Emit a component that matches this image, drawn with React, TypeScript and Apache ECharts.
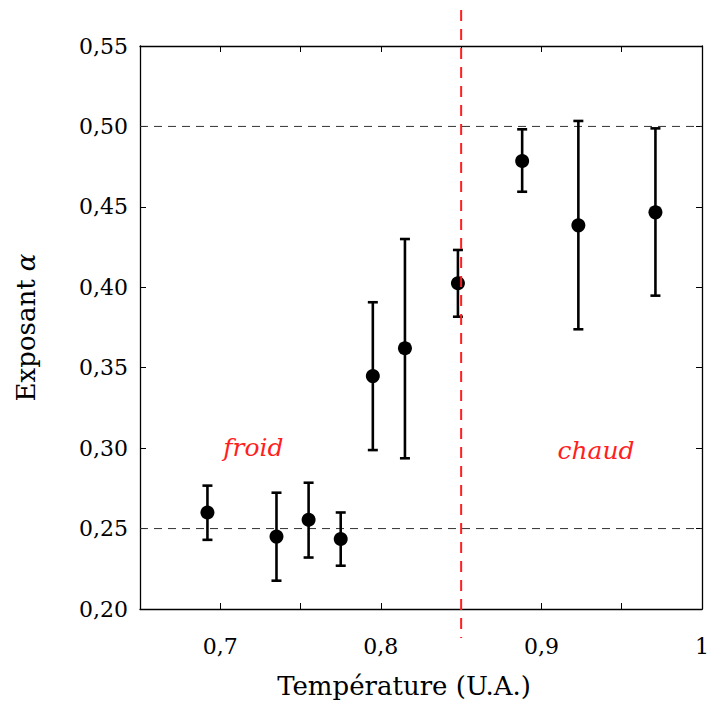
import React, { useEffect, useRef } from "react";
import * as echarts from "echarts";

const temperatures = [0.692, 0.735, 0.755, 0.775, 0.795, 0.815, 0.848, 0.888, 0.923, 0.971];
const alphaValues = [0.26, 0.245, 0.2555, 0.2435, 0.3448, 0.3621, 0.4025, 0.4785, 0.4385, 0.4466];
const errLow = [0.243, 0.2176, 0.232, 0.2269, 0.2988, 0.2937, 0.3817, 0.4594, 0.3739, 0.3948];
const errHigh = [0.2767, 0.2723, 0.2785, 0.26, 0.3907, 0.43, 0.4232, 0.4982, 0.5034, 0.4988];
const refLevels = [0.25, 0.5];
const transitionT = [0.85];
const annotations = [
  { x: 0.7206, y: 0.3007, text: "froid" },
  { x: 0.934, y: 0.2988, text: "chaud" },
];

const FONT = "DejaVu Serif";

export default function App() {
  const ref = useRef<HTMLDivElement>(null);
  useEffect(() => {
    const chart = echarts.init(ref.current!, null, { renderer: "svg" });
    const xLabel = (v: number) => {
      const c = Math.round(v * 100);
      if (c % 10 !== 0) return "";
      return c === 100 ? "1" : "0," + c / 10;
    };
    const yLabel = (v: number) => v.toFixed(2).replace(".", ",");
    const axisCommon = {
      axisLine: { show: true, onZero: false, lineStyle: { color: "#000", width: 1.3 } },
      axisTick: { show: true, inside: true, length: 6, lineStyle: { color: "#000", width: 1 } },
      splitLine: { show: false },
    };
    chart.setOption({
      animation: false,
      grid: { left: 140, right: 10, top: 46, bottom: 95, containLabel: false },
      xAxis: [
        {
          type: "value",
          min: 0.65,
          max: 1.0,
          interval: 0.05,
          position: "bottom",
          ...axisCommon,
          axisLabel: {
            formatter: xLabel,
            margin: 26,
            fontFamily: FONT,
            fontSize: 22,
            color: "#000",
            showMinLabel: true,
            showMaxLabel: true,
          },
          name: "Température (U.A.)",
          nameLocation: "middle",
          nameGap: 64,
          nameTextStyle: { fontFamily: FONT, fontSize: 26, color: "#000", padding: [0, 34, 0, 0] },
        },
        {
          type: "value",
          min: 0.65,
          max: 1.0,
          interval: 0.05,
          position: "top",
          ...axisCommon,
          axisLabel: { show: false },
        },
      ],
      yAxis: [
        {
          type: "value",
          min: 0.2,
          max: 0.55,
          interval: 0.05,
          position: "left",
          ...axisCommon,
          axisLabel: {
            formatter: yLabel,
            margin: 12,
            fontFamily: FONT,
            fontSize: 22,
            color: "#000",
            showMinLabel: true,
            showMaxLabel: true,
          },
          name: "Exposant {i|α}",
          nameLocation: "middle",
          nameGap: 101,
          nameTextStyle: {
            fontFamily: FONT,
            fontSize: 26,
            color: "#000",
            rich: { i: { fontFamily: FONT, fontSize: 26, fontStyle: "italic", color: "#000" } },
          },
        },
        {
          type: "value",
          min: 0.2,
          max: 0.55,
          interval: 0.05,
          position: "right",
          ...axisCommon,
          axisLabel: { show: false },
        },
      ],
      series: [
        {
          type: "custom",
          name: "refs",
          data: refLevels.map((v) => [v]),
          renderItem: (params: any, api: any) => {
            const cs = params.coordSys;
            const y = api.coord([0.65, api.value(0)])[1];
            return {
              type: "line",
              shape: { x1: cs.x, y1: y, x2: cs.x + cs.width, y2: y },
              style: { stroke: "#333", lineWidth: 1, lineDash: [8, 6] },
            };
          },
          z: 1,
        },
        {
          type: "custom",
          name: "transition",
          data: transitionT.map((v) => [v]),
          clip: false,
          renderItem: (params: any, api: any) => {
            const cs = params.coordSys;
            const x = api.coord([api.value(0), 0.2])[0];
            return {
              type: "line",
              shape: { x1: x, y1: cs.y - 36, x2: x, y2: cs.y + cs.height + 29 },
              style: { stroke: "#ff1f1f", lineWidth: 2, lineDash: [11, 8] },
            };
          },
          z: 5,
        },
        {
          type: "custom",
          name: "errors",
          data: temperatures.map((t, i) => [t, errLow[i], errHigh[i]]),
          renderItem: (params: any, api: any) => {
            const x = api.value(0);
            const lo = api.coord([x, api.value(1)]);
            const hi = api.coord([x, api.value(2)]);
            const cap = 5;
            const style = { stroke: "#000", lineWidth: 2.6 };
            return {
              type: "group",
              children: [
                { type: "line", shape: { x1: lo[0], y1: lo[1], x2: hi[0], y2: hi[1] }, style },
                { type: "line", shape: { x1: lo[0] - cap, y1: lo[1], x2: lo[0] + cap, y2: lo[1] }, style },
                { type: "line", shape: { x1: hi[0] - cap, y1: hi[1], x2: hi[0] + cap, y2: hi[1] }, style },
              ],
            };
          },
          z: 3,
        },
        {
          type: "scatter",
          name: "alpha",
          data: temperatures.map((t, i) => [t, alphaValues[i]]),
          symbol: "circle",
          symbolSize: 14,
          itemStyle: { color: "#000", opacity: 1 },
          z: 4,
        },
        {
          type: "scatter",
          name: "labels",
          data: annotations.map((a) => ({ value: [a.x, a.y], name: a.text })),
          symbolSize: 0,
          itemStyle: { opacity: 1 },
          label: {
            show: true,
            position: "inside",
            formatter: (p: any) => p.name,
            fontFamily: FONT,
            fontStyle: "italic",
            fontSize: 25,
            color: "#ff1f1f",
            opacity: 1,
          },
          z: 6,
        },
      ],
    });
    return () => chart.dispose();
  }, []);
  return (
    <div
      ref={ref}
      style={{ position: "fixed", left: 0, top: 0, width: 712, height: 704, background: "#fff" }}
    />
  );
}
